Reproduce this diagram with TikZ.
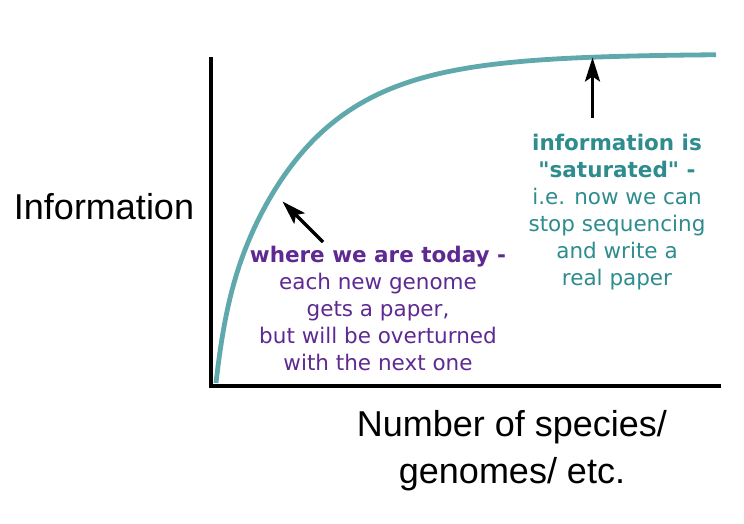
\documentclass[tikz,border=0pt]{standalone}
\usepackage{fontspec}
\usetikzlibrary{arrows.meta}
\newfontfamily\axisfont{Liberation Sans}
\newfontfamily\notefont{DejaVu Sans}
\definecolor{curveteal}{HTML}{5FA8AB}
\definecolor{textteal}{HTML}{2E8C8E}
\definecolor{notepurple}{HTML}{5E2A91}
\tikzset{
  axisline/.style={line width=4.5pt, black, line cap=butt},
  curveline/.style={line width=4.8pt, curveteal},
  pointer/.style={line width=3.2pt, black, -{Stealth[length=24pt, width=15pt, inset=5pt]}},
  axislabel/.style={inner sep=0pt, anchor=base, font=\axisfont\fontsize{36}{47}\selectfont},
  notetext/.style={inner sep=0pt, anchor=base, font=\notefont\fontsize{21.5}{27}\selectfont}
}
\begin{document}
\begin{tikzpicture}[x=1pt, y=-1pt]
\useasboundingbox (0,0) rectangle (744,524);
% axes
\coordinate (ytop) at (211,57);
\coordinate (origin) at (211,386);
\coordinate (xend) at (721,386);
\draw[axisline] (ytop) -- (211,388.25);
\draw[axisline] (208.75,386) -- (xend);
% saturation curve
\draw[curveline] plot[domain=0:500, samples=250, variable=\d]
  ({216+\d}, {383 - 58*(1-exp(-\d/10)) - 271*(1-exp(-\d/85))});
% labels
\node[axislabel] (ylab) at (104,219) {Information};
\node[axislabel] (xlab) at (512,436) {\begin{tabular}[t]{@{}c@{}}Number of species/\\genomes/ etc.\end{tabular}};
\node[notetext, text=notepurple] (today) at (378,262) {\begin{tabular}[t]{@{}c@{}}\textbf{where we are today -}\\each new genome\\gets a paper,\\but will be overturned\\with the next one\end{tabular}};
\node[notetext, text=textteal] (satur) at (617,150) {\begin{tabular}[t]{@{}c@{}}\textbf{information is}\\\textbf{"saturated" -}\\i.e. now we can\\stop sequencing\\and write a\\real paper\end{tabular}};
% pointers
\coordinate (todaytail) at (323,242);
\coordinate (todaytip) at (282.5,201.5);
\coordinate (saturtail) at (592.5,118);
\coordinate (saturtip) at (592.5,57.5);
\draw[pointer] (todaytail) -- (todaytip);
\draw[pointer] (saturtail) -- (saturtip);
\end{tikzpicture}
\end{document}
